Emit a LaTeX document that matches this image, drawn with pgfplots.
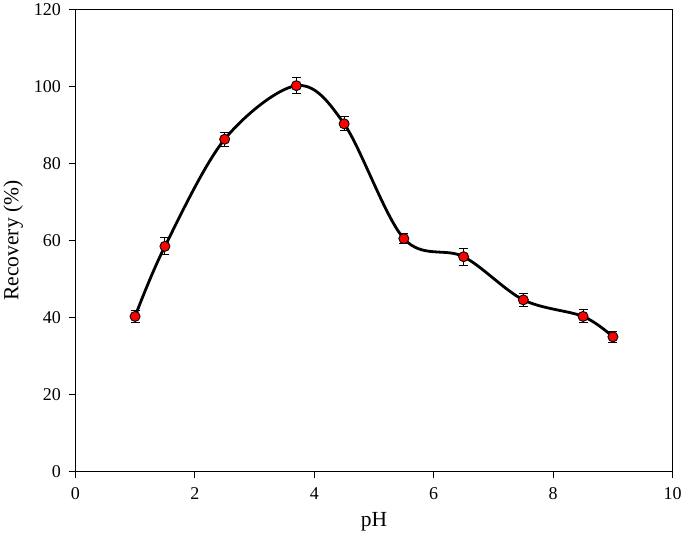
\documentclass[border=0pt]{standalone}
\usepackage{fontspec}
\setmainfont{Liberation Serif}
\usepackage{pgfplots}
\pgfplotsset{compat=1.18}

\begin{document}
\begin{tikzpicture}
\begin{axis}[
    scale only axis,
    width=597pt, height=462pt,
    xmin=0, xmax=10, ymin=0, ymax=120,
    xtick={0,2,...,10}, ytick={0,20,...,120},
    tick align=outside,
    xtick pos=left, ytick pos=left,
    major tick length=6pt,
    axis line style={line width=1.2pt},
    tick style={line width=1.2pt, black},
    tick label style={font=\fontsize{18}{20}\selectfont},
    yticklabel style={xshift=-5pt},
    xticklabel style={yshift=-6pt},
    /pgf/number format/assume math mode=true,
    xlabel={pH}, ylabel={Recovery (\%)},
    label style={font=\fontsize{21.5}{24}\selectfont},
    xlabel style={yshift=-6pt},
    ylabel style={yshift=4pt},
]
\addplot[black, line width=2.8pt, smooth, tension=0.55, forget plot] coordinates {
(1,40.3) (1.5,58.5) (2.5,86.3) (3.7,100.2) (4.5,90.3) (5.5,60.5) (6.5,55.8) (7.5,44.6) (8.5,40.3) (9,35.0)
};
\addplot[only marks, mark=*, mark size=5pt,
    mark options={fill=red, draw=black, line width=0.9pt},
    error bars/.cd, y dir=both, y explicit,
    error bar style={black, line width=1pt},
    error mark options={rotate=90, mark size=4.5pt, line width=1pt}]
coordinates {
(1,40.3) +- (0,1.6)
(1.5,58.5) +- (0,2.2)
(2.5,86.3) +- (0,1.8)
(3.7,100.2) +- (0,2.0)
(4.5,90.3) +- (0,1.8)
(5.5,60.5) +- (0,1.3)
(6.5,55.8) +- (0,2.2)
(7.5,44.6) +- (0,1.7)
(8.5,40.3) +- (0,1.7)
(9,35.0) +- (0,1.5)
};
\end{axis}
\end{tikzpicture}
\end{document}
